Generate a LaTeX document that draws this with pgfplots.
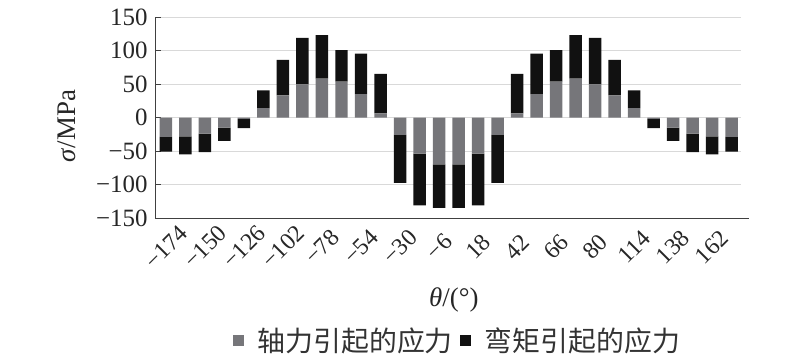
\documentclass[border=0pt]{standalone}
\usepackage{fontspec}
\setmainfont{Liberation Serif}
\newfontfamily\cjk{Noto Sans CJK SC}
\usepackage{pgfplots}
\usepackage{pgfplotstable}
\pgfplotsset{compat=1.18}
\definecolor{axgray}{RGB}{118,118,122}
\definecolor{bkblack}{RGB}{17,17,17}
\pgfplotstableread{
x a b
0 -29 -22
1 -28 -27
2 -24 -27.5
3 -15 -20
4 -2 -14
5 14 26.6
6 33 53
7 49.5 69.5
8 58 65
9 53.5 47
10 35 60.5
11 6 59
12 -26 -71.5
13 -54 -77
14 -70 -65
15 -70 -65
16 -54 -77
17 -26 -71.5
18 6 59
19 35 60.5
20 53.5 47
21 58 65
22 49.5 69.5
23 33 53
24 14 26.6
25 -2 -14
26 -15 -20
27 -24 -27.5
28 -28 -27
29 -29 -22
}\data
\begin{document}
\begin{tikzpicture}
\path[use as bounding box] (0,0) rectangle (800bp,354bp);
\begin{axis}[
 at={(155bp,136bp)}, anchor=south west,
 scale only axis, width=586bp, height=201bp,
 ybar stacked, bar width=0.64,
 xmin=-0.56, xmax=29.48, ymin=-150, ymax=150,
 axis x line*=bottom, axis y line*=left,
 axis line style={-, black!75, line width=0.9bp},
 x axis line style={shorten >=-8bp},
 ymajorgrids, grid style={black!15, line width=0.6bp},
 ytick={-150,-100,...,150},
 yticklabels={−150,−100,−50,0,50,100,150},
 xtick={0,2,...,28},
 xticklabels={−174,−150,−126,−102,−78,−54,−30,−6,18,42,66,80,114,138,162},
 tick align=inside, major tick length=6bp,
 xtick style={draw=none},
 ytick style={black!75, line width=0.8bp},
 yticklabel style={font=\fontsize{25}{25}\selectfont, black!85, xshift=-4bp},
 xticklabel style={font=\fontsize{24}{24}\selectfont, black!85, anchor=center, yshift=-29bp, rotate=45},
 xlabel={\textit{θ}/(°)},
 xlabel style={font=\fontsize{27}{27}\selectfont, black!85, at={(axis description cs:0.51,-0.408)}, anchor=center},
 ylabel={\textit{σ}/MPa},
 ylabel style={font=\fontsize{27}{27}\selectfont, black!85, at={(axis description cs:-0.150,0.458)}, anchor=center},
 legend style={at={(0.515,-0.607)}, anchor=center, draw=none, fill=none, legend columns=2,
   inner sep=0pt, nodes={inner sep=1bp},
   font=\cjk\fontsize{28}{28}\selectfont, text=black!80,
   /tikz/every even column/.append style={column sep=6bp},
   /tikz/every odd column/.append style={column sep=13bp}},
 legend image code/.code={\fill[#1] (0bp,-5.5bp) rectangle (11bp,5.5bp);},
]
\addplot[fill=axgray, draw=none] table[x=x,y=a]{\data};
\addplot[fill=bkblack, draw=none] table[x=x,y=b]{\data};
\legend{轴力引起的应力,弯矩引起的应力}
\end{axis}
\end{tikzpicture}
\end{document}
